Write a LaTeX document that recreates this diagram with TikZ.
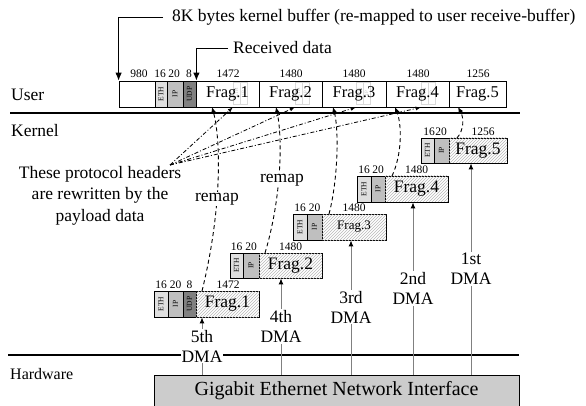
\documentclass[tikz,border=0pt]{standalone}
\usepackage{fontspec}
\setmainfont{Liberation Serif}
\usepackage{graphicx}
\usetikzlibrary{arrows.meta,patterns}
\newcommand\fBig{\fontsize{17.5}{21.5}\selectfont}
\newcommand\fDma{\fontsize{17.5}{20}\selectfont}
\newcommand\fNum{\fontsize{11.5}{12}\selectfont}
\newcommand\fFrag{\fontsize{16.5}{18}\selectfont}
\newcommand\fSmall{\fontsize{13}{14}\selectfont}
\newcommand\fHdr{\fontsize{7.5}{8}\selectfont}
\newcommand\fNic{\fontsize{20}{22}\selectfont}
\newcommand\vt[1]{\rotatebox{90}{#1}}
\begin{document}
\begin{tikzpicture}[x=1pt,y=-1pt,
  cell/.style={draw, line width=0.8pt, inner sep=0pt, minimum height=26pt},
  eth/.style={cell, fill=gray!25, font=\fHdr},
  iph/.style={cell, fill=gray!50, font=\fHdr},
  udp/.style={cell, fill=gray, font=\fHdr},
  ufrag/.style={cell, fill=white, font=\fFrag},
  kfrag/.style={cell, fill=white, font=\fBig, postaction={pattern=north east lines, pattern color=gray!55}},
  ghost/.style={draw=gray!30, line width=0.5pt, inner sep=0pt, minimum height=22pt, minimum width=7pt, text=gray!45, font=\fontsize{5}{5}\selectfont},
  num/.style={font=\fNum, inner sep=0pt, anchor=base},
  lbl/.style={font=\fBig, inner sep=0pt, anchor=base west},
  sep/.style={line width=1.6pt},
  arr/.style={line width=0.9pt, -{Latex[length=8pt,width=6.5pt]}},
  remap/.style={line width=0.9pt, dash pattern=on 4pt off 3pt, -{Latex[length=6pt,width=5pt]}},
  hdr/.style={line width=0.8pt, dash pattern=on 4pt off 2pt on 1pt off 2pt, -{Latex[length=5pt,width=4pt]}},
  dma/.style={draw=gray, line width=1pt, -{Latex[length=6pt,width=5pt,black]}},
  dmalab/.style={fill=white, align=center, font=\fDma, inner sep=1pt},
  remlab/.style={fill=white, font=\fBig, inner sep=1pt}
]
\useasboundingbox (0,0) rectangle (586,406);

% ---------- separators and layer labels
\coordinate (s1a) at (10,113);
\coordinate (s1b) at (520,113);
\coordinate (s2a) at (8,355);
\coordinate (s2b) at (519,355);
\draw[sep] (s1a) -- (s1b);
\draw[sep] (s2a) -- (s2b);
\node[lbl] (luser) at (11,101) {User};
\node[lbl] (lkern) at (11,137) {Kernel};
\node[lbl, font=\fontsize{16}{18}\selectfont] (lhw) at (10,379) {Hardware};

% ---------- user buffer
\node[cell, minimum width=36pt] (ublank) at (137,94) {};
\node[eth, minimum width=12pt] (uE) at (161,94) {\vt{ETH}};
\node[iph, minimum width=16pt] (uI) at (175,94) {\vt{IP}};
\node[udp, minimum width=13pt] (uU) at (189.5,94) {\vt{UDP}};
\node[ufrag, minimum width=63pt] (uF1) at (227.5,94) {};
\node[ufrag, minimum width=63pt] (uF2) at (290.5,94) {};
\node[ufrag, minimum width=64pt] (uF3) at (354,94) {};
\node[ufrag, minimum width=63pt] (uF4) at (417.5,94) {};
\node[ufrag, minimum width=57pt] (uF5) at (477.5,94) {};
% ghost headers
\node[ghost] (g1e) at (236.5,93) {\vt{ETH}};
\node[ghost] (g1i) at (243.5,93) {\vt{IP}};
\node[ghost] (g2e) at (298.5,93) {\vt{ETH}};
\node[ghost] (g2i) at (305.5,93) {\vt{IP}};
\node[ghost] (g3e) at (359.5,93) {\vt{ETH}};
\node[ghost] (g3i) at (366.5,93) {\vt{IP}};
\node[ghost] (g4e) at (424.5,93) {\vt{ETH}};
\node[ghost] (g4i) at (431.5,93) {\vt{IP}};
\node[font=\fFrag, inner sep=0pt] (tF1) at (uF1) {Frag.1};
\node[font=\fFrag, inner sep=0pt] (tF2) at (uF2) {Frag.2};
\node[font=\fFrag, inner sep=0pt] (tF3) at (uF3) {Frag.3};
\node[font=\fFrag, inner sep=0pt] (tF4) at (uF4) {Frag.4};
\node[font=\fFrag, inner sep=0pt] (tF5) at (uF5) {Frag.5};
% sizes
\node[num] (n980) at (139,77.5) {980};
\node[num] (n16u) at (160,77.5) {16};
\node[num] (n20u) at (174,77.5) {20};
\node[num] (n8u) at (189,77.5) {8};
\node[num] (n1472u) at (228,77.5) {1472};
\node[num] (n1480a) at (291,77.5) {1480};
\node[num] (n1480b) at (354,77.5) {1480};
\node[num] (n1480c) at (418,77.5) {1480};
\node[num] (n1256u) at (478,77.5) {1256};

% ---------- top annotations
\node[font=\fBig, inner sep=0pt, anchor=west] (t8k) at (172,17) {8K bytes kernel buffer (re-mapped to user receive-buffer)};
\draw[arr] ([xshift=-9pt]t8k.west) -| (ublank.north west);
\node[font=\fBig, inner sep=0pt, anchor=west] (trd) at (233,48) {Received data};
\draw[arr] ([xshift=-5pt]trd.west) -| (uU.north east);

% ---------- kernel fragments
% Frag.1
\node[eth, minimum width=14pt] (kE1) at (161,304) {\vt{ETH}};
\node[iph, minimum width=15pt] (kI1) at (175.5,304) {\vt{IP}};
\node[udp, minimum width=13pt] (kU1) at (189.5,304) {\vt{UDP}};
\node[kfrag, minimum width=63pt] (kF1) at (227.5,304) {Frag.1};
\node[num] (k1a) at (161,288.5) {16};
\node[num] (k1b) at (175.5,288.5) {20};
\node[num] (k1c) at (189.5,288.5) {8};
\node[num] (k1d) at (228,288.5) {1472};
% Frag.2
\node[eth, minimum width=13pt, minimum height=25pt] (kE2) at (236.5,265.5) {\vt{ETH}};
\node[iph, minimum width=16pt, minimum height=25pt] (kI2) at (251,265.5) {\vt{IP}};
\node[kfrag, minimum width=63pt, minimum height=25pt] (kF2) at (290.5,265.5) {Frag.2};
\node[num] (k2a) at (236.5,250.5) {16};
\node[num] (k2b) at (251,250.5) {20};
\node[num] (k2d) at (290.5,250.5) {1480};
% Frag.3
\node[eth, minimum width=14pt] (kE3) at (300,227) {\vt{ETH}};
\node[iph, minimum width=15pt] (kI3) at (314.5,227) {\vt{IP}};
\node[kfrag, minimum width=64pt, font=\fSmall] (kF3) at (354,227) {Frag.3};
\node[num] (k3a) at (300,211.5) {16};
\node[num] (k3b) at (314.5,211.5) {20};
\node[num] (k3d) at (354,211.5) {1480};
% Frag.4
\node[eth, minimum width=14pt] (kE4) at (364,189) {\vt{ETH}};
\node[iph, minimum width=14pt] (kI4) at (378,189) {\vt{IP}};
\node[kfrag, minimum width=63pt] (kF4) at (416.5,189) {Frag.4};
\node[num] (k4a) at (364,173.5) {16};
\node[num] (k4b) at (378,173.5) {20};
\node[num] (k4d) at (416.5,173.5) {1480};
% Frag.5
\node[eth, minimum width=13pt, minimum height=25pt] (kE5) at (427.5,150.5) {\vt{ETH}};
\node[iph, minimum width=15pt, minimum height=25pt] (kI5) at (441.5,150.5) {\vt{IP}};
\node[kfrag, minimum width=58pt, minimum height=25pt] (kF5) at (478,150.5) {Frag.5};
\node[num] (k5a) at (429,135.5) {16};
\node[num] (k5b) at (441,135.5) {20};
\node[num] (k5d) at (483,135.5) {1256};

% ---------- NIC
\node[draw, fill=gray!40, line width=0.8pt, minimum width=365pt, minimum height=33pt, inner sep=0pt, anchor=north west] (nic) at (154,375) {};
\node[font=\fNic, inner sep=0pt] (nictxt) at (336.5,391) {Gigabit Ethernet Network Interface};

% ---------- DMA arrows
\coordinate (d5) at (202,375);
\coordinate (d4) at (281,375);
\coordinate (d3) at (351,375);
\coordinate (d2) at (413,375);
\coordinate (d1) at (471,375);
\draw[dma] (d5) -- (d5 |- kF1.south);
\draw[dma] (d4) -- (d4 |- kF2.south);
\draw[dma] (d3) -- (d3 |- kF3.south);
\draw[dma] (d2) -- (d2 |- kF4.south);
\draw[dma] (d1) -- (d1 |- kF5.south);
\node[dmalab] (l5) at (202,346) {5th\\DMA};
\node[dmalab] (l4) at (281,326.5) {4th\\DMA};
\node[dmalab] (l3) at (351,307) {3rd\\DMA};
\node[dmalab] (l2) at (413,288.5) {2nd\\DMA};
\node[dmalab] (l1) at (471,269) {1st\\DMA};

% ---------- remap curves
\coordinate (r1a) at (202,291);
\coordinate (r1b) at (212,107);
\coordinate (r2a) at (265,253);
\coordinate (r2b) at (276,107);
\coordinate (r3a) at (329,214);
\coordinate (r3b) at (333,107);
\coordinate (r4a) at (392,176);
\coordinate (r4b) at (395,107);
\coordinate (r5a) at (457,138);
\coordinate (r5b) at (458,107);
\draw[remap] (r1a) .. controls (222,210) and (221,140) .. (r1b);
\draw[remap] (r2a) .. controls (281,200) and (283,140) .. (r2b);
\draw[remap] (r3a) .. controls (338,180) and (339,130) .. (r3b);
\draw[remap] (r4a) .. controls (402,155) and (402,125) .. (r4b);
\draw[remap] (r5a) .. controls (464,130) and (464,118) .. (r5b);
\node[remlab] (rl1) at (217,199) {remap};
\node[remlab] (rl2) at (282,180) {remap};

% ---------- protocol header note
\coordinate (hsrc) at (170,165);
\draw[hdr] (hsrc) -- (g1e.south west |- uF1.south);
\draw[hdr] (hsrc) -- (g2e.south west |- uF2.south);
\draw[hdr] (hsrc) -- (g3e.south west |- uF3.south);
\draw[hdr] (hsrc) -- (g4e.south west |- uF4.south);
\node[font=\fBig, align=center, inner sep=0pt] (note) at (100,195.5) {These protocol headers\\are rewritten by the\\payload data};
\end{tikzpicture}
\end{document}
